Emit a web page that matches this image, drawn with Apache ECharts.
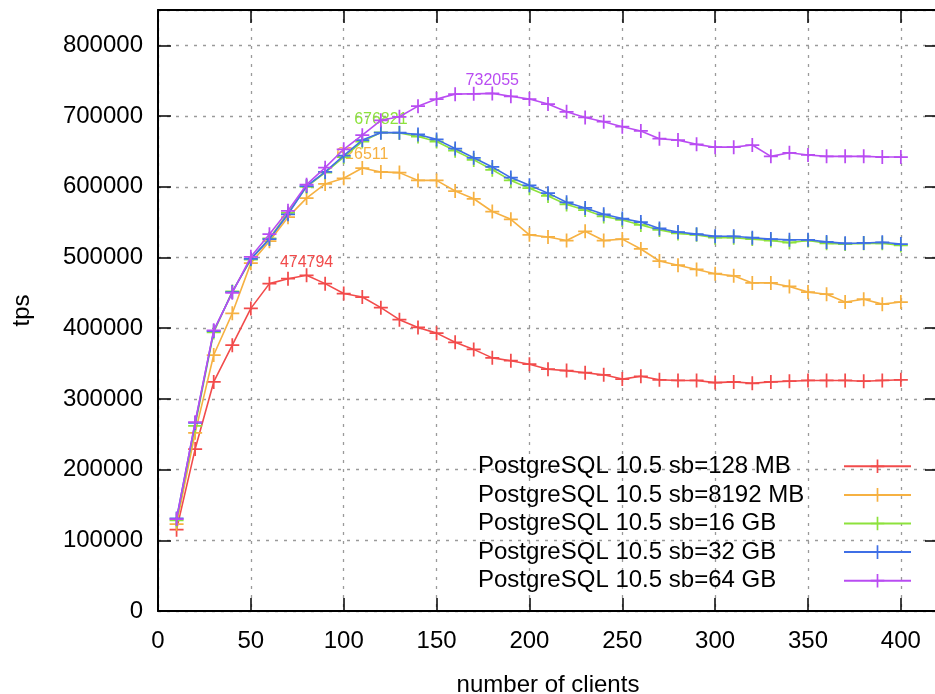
<!DOCTYPE html>
<html><head><meta charset="utf-8">
<script src="https://cdn.jsdelivr.net/npm/echarts@6/dist/echarts.min.js"></script>
<style>html,body{margin:0;padding:0;background:#fff}#c{width:935px;height:694px}</style>
</head><body><div id="c"></div>
<script>
const clients = [10,20,30,40,50,60,70,80,90,100,110,120,130,140,150,160,170,180,190,200,210,220,230,240,250,260,270,280,290,300,310,320,330,340,350,360,370,380,390,400];
const tps128MB = [115000,229000,324000,376000,428000,463000,470000,474794,463000,449000,444000,429000,412000,401000,393000,380000,370000,358000,354000,349000,342000,340000,337000,334000,328000,332000,327000,326000,326000,323000,324000,322000,324000,325000,326000,326000,326000,325000,326000,327000];
const tps8192MB = [123000,252000,362000,421000,492000,523000,557000,584000,604000,612000,626511,621000,620000,609000,609000,594000,583000,565000,554000,532000,529000,524000,537000,524000,526000,512000,495000,489000,483000,477000,474000,464000,464000,459000,451000,448000,437000,441000,434000,437000];
const tps16GB = [128000,262000,394000,452000,497000,527000,563000,600000,620000,642000,664000,676821,676000,671000,664000,651000,638000,624000,609000,598000,587000,575000,567000,558000,553000,546000,539000,534000,532000,528000,528000,526000,524000,521000,524000,520000,519000,520000,520000,517000];
const tps32GB = [131000,266000,396000,451000,498000,526000,561000,601000,621000,644000,666000,676500,676500,674000,667000,654000,641000,628000,613000,602000,591000,578000,570000,561000,555000,550000,541000,536000,533000,530000,530000,528000,526000,525000,525000,522000,520000,520500,521500,519000];
const tps64GB = [130000,267000,397000,450000,501000,533000,566000,603000,627000,653000,673000,694000,699000,714000,724000,731000,731500,732055,728000,724000,717000,706000,698000,692000,685000,679000,668000,666000,660000,656000,656000,659000,643000,648000,645000,643000,643000,643000,642000,642000];
const seriesNames = ['PostgreSQL 10.5 sb=128 MB','PostgreSQL 10.5 sb=8192 MB','PostgreSQL 10.5 sb=16 GB','PostgreSQL 10.5 sb=32 GB','PostgreSQL 10.5 sb=64 GB'];
const seriesValues = [tps128MB, tps8192MB, tps16GB, tps32GB, tps64GB];
const labeledSeries = [true, true, true, false, true];
const xTicks = [0,50,100,150,200,250,300,350,400];
const yTicks = [0,100000,200000,300000,400000,500000,600000,700000,800000];
const xMax = 420, yMax = 850000;

const colors = ['#f24b4b','#f6b142','#8de23c','#3f6fe6','#b94cf2'];
const FONT = "'Liberation Sans', Arial, sans-serif";
const plus = 'path://M-1,-8H1V-1H8V1H1V8H-1V1H-8V-1H-1Z';
const GRID_W = 780, GRID_H = 601, TICK = 13;
const dx = TICK * xMax / GRID_W, dy = TICK * yMax / GRID_H;

// inward (mirrored) tick marks on all four sides, expressed in axis units
const tickLines = [];
xTicks.forEach(v => {
  tickLines.push([{ coord: [v, 0] }, { coord: [v, dy] }]);
  tickLines.push([{ coord: [v, yMax] }, { coord: [v, yMax - dy] }]);
});
yTicks.forEach(v => {
  tickLines.push([{ coord: [0, v] }, { coord: [dx, v] }]);
  tickLines.push([{ coord: [xMax, v] }, { coord: [xMax - dx, v] }]);
});

const series = seriesNames.map((name, s) => {
  const vals = seriesValues[s];
  let peak = 0;
  vals.forEach((v, i) => { if (v > vals[peak]) peak = i; });
  const def = {
    name, type: 'line', symbol: plus, symbolSize: 14,
    color: colors[s],
    lineStyle: { width: 1.6, color: colors[s] },
    itemStyle: { color: colors[s] },
    data: clients.map((c, i) => ({
      value: [c, vals[i]],
      label: (labeledSeries[s] && i === peak) ? { show: true } : { show: false }
    })),
    label: { position: 'top', distance: -2, fontSize: 16, fontFamily: FONT, color: colors[s], formatter: p => String(p.value[1]) },
    animation: false, z: 2 + s
  };
  if (s === 0) {
    def.markLine = {
      silent: true, animation: false, symbol: ['none', 'none'], precision: 6,
      label: { show: false },
      lineStyle: { color: '#000', width: 1.5, type: 'solid', opacity: 1 },
      emphasis: { disabled: true },
      data: tickLines
    };
  }
  return def;
});

const lineOn = () => ({ show: true, onZero: false, lineStyle: { color: '#000', width: 2 } });
const gridLine = () => ({ show: true, lineStyle: { color: '#9a9a9a', width: 1.3, type: [3, 6] } });
const xBase = { type: 'value', min: 0, max: xMax, interval: 50 };
const yBase = { type: 'value', min: 0, max: yMax, interval: 100000 };

const chart = echarts.init(document.getElementById('c'));
chart.setOption({
  backgroundColor: '#fff',
  animation: false,
  grid: { left: 158, top: 10, width: GRID_W, height: GRID_H, containLabel: false, outerBoundsMode: 'none' },
  xAxis: [Object.assign({}, xBase, {
    position: 'bottom',
    axisLine: lineOn(), axisTick: { show: false },
    splitLine: gridLine(),
    axisLabel: { margin: 18, fontSize: 24, fontFamily: FONT, color: '#000', showMaxLabel: false,
      formatter: v => xTicks.includes(v) ? String(v) : '' },
    name: 'number of clients', nameLocation: 'middle', nameGap: 62,
    nameTextStyle: { fontSize: 24, fontFamily: FONT, color: '#000' }
  }), Object.assign({}, xBase, {
    position: 'top',
    axisLine: lineOn(), axisTick: { show: false }, splitLine: { show: false },
    axisLabel: { show: false }
  })],
  yAxis: [Object.assign({}, yBase, {
    position: 'left',
    axisLine: lineOn(), axisTick: { show: false },
    splitLine: gridLine(),
    axisLabel: { margin: 15, fontSize: 24, fontFamily: FONT, color: '#000', showMaxLabel: false,
      formatter: v => yTicks.includes(v) ? String(v) : '' },
    name: 'tps', nameLocation: 'middle', nameRotate: 90, nameGap: 124,
    nameTextStyle: { fontSize: 24, fontFamily: FONT, color: '#000' }
  }), Object.assign({}, yBase, {
    position: 'right',
    axisLine: lineOn(), axisTick: { show: false }, splitLine: { show: false },
    axisLabel: { show: false }
  })],
  legend: [{
    orient: 'vertical', left: 473, top: 452, padding: 0, itemGap: 0,
    icon: 'rect', itemWidth: 0, itemHeight: 17,
    itemStyle: { opacity: 0 },
    textStyle: { fontSize: 24, fontFamily: FONT, color: '#000', lineHeight: 28.6 },
    data: seriesNames, selectedMode: false
  }, {
    orient: 'vertical', left: 843, top: 452, padding: 0, itemGap: 0,
    itemWidth: 67, itemHeight: 17,
    formatter: () => ' ',
    textStyle: { fontSize: 24, fontFamily: FONT, color: '#000', lineHeight: 28.6 },
    data: seriesNames, selectedMode: false
  }],
  series
});
</script></body></html>
